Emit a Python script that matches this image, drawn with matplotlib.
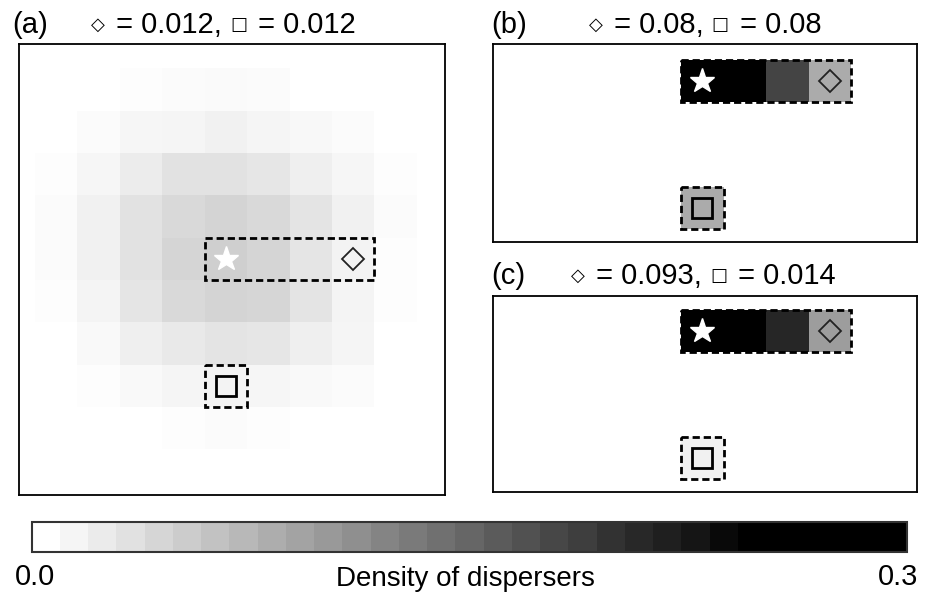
import numpy as np
import matplotlib
matplotlib.use("Agg")
import matplotlib.pyplot as plt
from matplotlib.colors import LinearSegmentedColormap, ListedColormap, Normalize
from matplotlib.patches import Rectangle
from matplotlib.cm import ScalarMappable

plt.rcParams['font.family'] = ['Liberation Sans', 'DejaVu Sans']

# density of dispersers around the source cell, panel (a) (rows top -> bottom)
density_a = np.array([
    [0.000, 0.000, 0.003, 0.004, 0.005, 0.004, 0.001, 0.000, 0.000],
    [0.000, 0.004, 0.0085, 0.0104, 0.013, 0.0104, 0.0076, 0.004, 0.000],
    [0.003, 0.0085, 0.018, 0.027, 0.027, 0.024, 0.016, 0.0085, 0.003],
    [0.004, 0.013, 0.028, 0.037, 0.042, 0.037, 0.026, 0.013, 0.004],
    [0.004, 0.013, 0.027, 0.041, 0.046, 0.040, 0.025, 0.012, 0.003],
    [0.003, 0.011, 0.025, 0.037, 0.042, 0.039, 0.026, 0.011, 0.003],
    [0.000, 0.0066, 0.016, 0.022, 0.026, 0.024, 0.016, 0.0095, 0.000],
    [0.000, 0.003, 0.0066, 0.0104, 0.012, 0.0085, 0.0066, 0.004, 0.000],
    [0.000, 0.000, 0.000, 0.003, 0.004, 0.003, 0.000, 0.000, 0.000],
])

# panels (b) and (c): only the cells on the two paths
strip_b = [0.30, 0.27, 0.177, 0.08]   # star ... diamond
square_b = 0.08
strip_c = [0.30, 0.27, 0.206, 0.093]
square_c = 0.014

panel_labels = ["(a)", "(b)", "(c)"]
diamond_vals = ["0.012", "0.08", "0.093"]
square_vals = ["0.012", "0.08", "0.014"]
cbar_ticklabels = ["0.0", "0.3"]
cbar_label = "Density of dispersers"

STAR = (4, 4)      # (col, row)
DIAMOND = (7, 4)
SQUARE = (4, 7)
VMAX = 0.3
N_LEVELS = 31
BLACK_AT = 25 / 31

heat_cmap = LinearSegmentedColormap.from_list(
    "disp", [(0, "white"), (BLACK_AT, "black"), (1, "black")])
bar_cmap = ListedColormap([heat_cmap(k / N_LEVELS) for k in range(N_LEVELS)])


def path_grid(strip, square):
    grid = np.full((9, 9), np.nan)
    c0, r0 = STAR
    for i, v in enumerate(strip):
        grid[r0, c0 + i] = v
    grid[SQUARE[1], SQUARE[0]] = square
    return grid


def draw_panel(ax, grid, xlim, ylim):
    edges = np.arange(10)
    ax.pcolormesh(edges, edges, np.ma.masked_invalid(grid), cmap=heat_cmap,
                  vmin=0, vmax=VMAX, shading='flat')
    c0, r0 = STAR
    ax.add_patch(Rectangle((c0, r0), DIAMOND[0] - c0 + 1, 1, fill=False,
                           ec='black', lw=2, ls=(0, (2.6, 1.4)), zorder=3))
    ax.add_patch(Rectangle(SQUARE, 1, 1, fill=False,
                           ec='black', lw=2, ls=(0, (2.6, 1.4)), zorder=3))
    ax.plot(c0 + 0.5, r0 + 0.5, marker='*', ms=18.5, mfc='white', mec='white',
            ls='none', zorder=4)
    ax.plot(DIAMOND[0] + 0.5, DIAMOND[1] + 0.5, marker='D', ms=11.5,
            mfc='none', mec='#222222', mew=1.3, ls='none', zorder=4)
    ax.plot(SQUARE[0] + 0.5, SQUARE[1] + 0.5, marker='s', ms=15,
            mfc='none', mec='black', mew=2, ls='none', zorder=4)
    ax.set_xlim(*xlim)
    ax.set_ylim(*ylim)
    ax.set_xticks([])
    ax.set_yticks([])
    for s in ax.spines.values():
        s.set_linewidth(1.3)


def title_row(fig, x_px, base_px, dval, sval):
    # small outline symbols followed by the values, laid out left to right
    W, H = fig.bbox.width, fig.bbox.height
    r = fig.canvas.get_renderer()
    parts = [("\u25c7", True), (" = %s, " % dval, False),
             ("\u25a1", True), (" = %s" % sval, False)]
    x = x_px
    for s, is_sym in parts:
        if is_sym:
            t = fig.text(x / W, 1 - (base_px - 8) / H, s, fontsize=13,
                         family='DejaVu Sans', va='center')
            x += t.get_window_extent(r).width + 3
        else:
            t = fig.text(x / W, 1 - base_px / H, s, fontsize=21, va='baseline')
            x += t.get_window_extent(r).width


fig = plt.figure(figsize=(9.26, 5.98), dpi=100)

ax_a = fig.add_axes([0.0208, 0.1717, 0.4597, 0.7542])
ax_b = fig.add_axes([0.5321, 0.5958, 0.4579, 0.3301])
ax_c = fig.add_axes([0.5321, 0.1768, 0.4579, 0.3287])

draw_panel(ax_a, density_a, (-0.37, 9.66), (10.09, -0.57))
draw_panel(ax_b, path_grid(strip_b, square_b), (-0.44, 9.55), (8.30, 3.63))
draw_panel(ax_c, path_grid(strip_c, square_c), (-0.44, 9.55), (8.31, 3.66))

# panel letters and titles
fig.text(12 / 926, 1 - 33 / 598, panel_labels[0], fontsize=21, va='baseline')
fig.text(491 / 926, 1 - 33 / 598, panel_labels[1], fontsize=21, va='baseline')
fig.text(491 / 926, 1 - 284 / 598, panel_labels[2], fontsize=21, va='baseline')
title_row(fig, 91, 33, diamond_vals[0], square_vals[0])
title_row(fig, 589, 33, diamond_vals[1], square_vals[1])
title_row(fig, 571, 284, diamond_vals[2], square_vals[2])

# colorbar
cax = fig.add_axes([0.0342, 0.0764, 0.9456, 0.0502])
sm = ScalarMappable(norm=Normalize(0, VMAX), cmap=bar_cmap)
cb = fig.colorbar(sm, cax=cax, orientation='horizontal')
cb.set_ticks([])
cb.outline.set_linewidth(1.5)
cb.outline.set_edgecolor('#333333')
fig.text(35 / 926, 0.0217, cbar_ticklabels[0], fontsize=21, ha='center', va='baseline')
fig.text(898 / 926, 0.0217, cbar_ticklabels[1], fontsize=21, ha='center', va='baseline')
fig.text(465 / 926, 0.02, cbar_label, fontsize=20, ha='center', va='baseline')

fig.savefig("out.png", dpi=100)
